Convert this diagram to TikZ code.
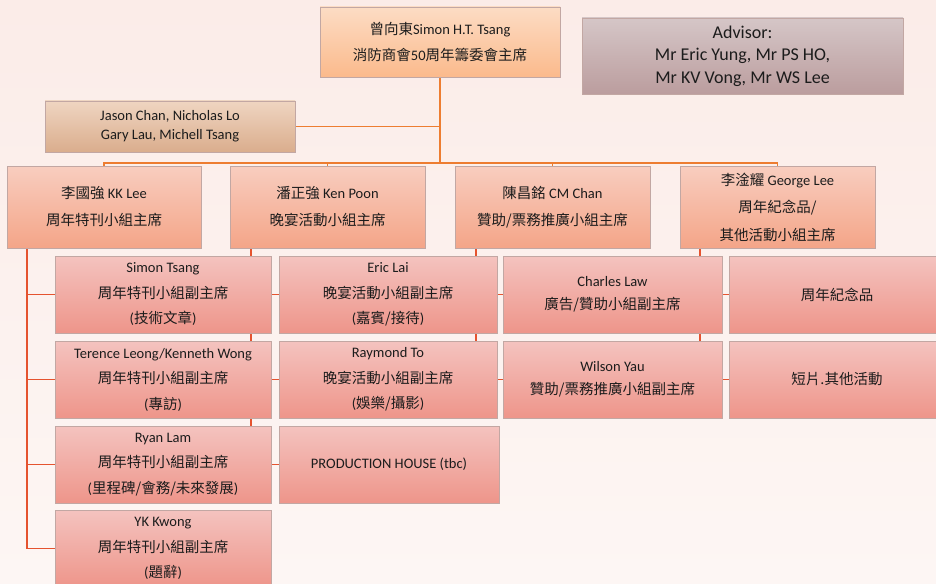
\documentclass[tikz,border=0pt]{standalone}
\usepackage{fontspec}
\setmainfont{Carlito}
\newfontfamily\cjk{Noto Sans CJK TC}
\definecolor{bgA}{HTML}{FBECE8}
\definecolor{bgB}{HTML}{FDF6F4}
\definecolor{topA}{HTML}{FCDCC4}
\definecolor{topB}{HTML}{FBBA8C}
\definecolor{advA}{HTML}{D5C6C7}
\definecolor{advB}{HTML}{BB9D9E}
\definecolor{jasA}{HTML}{EFD5C1}
\definecolor{jasB}{HTML}{DAAD8D}
\definecolor{rowA}{HTML}{F8CDBF}
\definecolor{rowB}{HTML}{F4A588}
\definecolor{subA}{HTML}{F4C3BF}
\definecolor{subB}{HTML}{EE958A}
\definecolor{edge}{HTML}{C2A7A3}
\definecolor{oline}{HTML}{ED7D31}
\definecolor{rline}{HTML}{E5532F}
\definecolor{ink}{HTML}{1C1C1C}
\pgfdeclarelayer{bg}
\pgfdeclarelayer{lines}
\pgfsetlayers{bg,lines,main}
\tikzset{
  box/.style={rectangle, inner sep=0pt, align=center, draw=edge, line width=0.7pt, text=ink},
  topbox/.style={box, top color=topA, bottom color=topB, font=\fontsize{14.5}{26}\selectfont},
  advbox/.style={box, top color=advA, bottom color=advB, font=\fontsize{18}{22.5}\selectfont},
  jasbox/.style={box, top color=jasA, bottom color=jasB, font=\fontsize{14.5}{19}\selectfont},
  rowbox/.style={box, top color=rowA, bottom color=rowB, font=\fontsize{14.5}{27}\selectfont, minimum width=195pt, minimum height=82pt},
  subbox/.style={box, top color=subA, bottom color=subB, font=\fontsize{14.5}{25.5}\selectfont, minimum height=77pt},
  twoline/.style={font=\fontsize{14.5}{23}\selectfont},
  orangeline/.style={draw=oline, line width=1.3pt},
  redline/.style={draw=rline, line width=1.3pt}
}
\begin{document}
\begin{tikzpicture}[x=1pt,y=-1pt]
\useasboundingbox (0,0) rectangle (936,583);
\begin{pgfonlayer}{bg}
\shade[top color=bgA, bottom color=bgB] (0,0) rectangle (936,583);
\end{pgfonlayer}

% top level
\node[topbox, minimum width=240pt, minimum height=70pt] (top) at (440,42)
  {{\cjk 曾向東}Simon H.T. Tsang\\{\cjk 消防商會}50{\cjk 周年籌委會主席}};
\node[advbox, minimum width=321pt, minimum height=76pt] (adv) at (742.5,56)
  {Advisor:\\Mr Eric Yung, Mr PS HO,\\Mr KV Vong, Mr WS Lee};
\node[jasbox, minimum width=250pt, minimum height=51pt] (jas) at (170,126.5)
  {Jason Chan, Nicholas Lo\\Gary Lau, Michell Tsang};

% row 2
\node[rowbox, minimum width=194pt] (kk) at (104,207)
  {{\cjk 李國強} KK Lee\\{\cjk 周年特刊小組主席}};
\node[rowbox] (kp) at (327.5,207)
  {{\cjk 潘正強} Ken Poon\\{\cjk 晚宴活動小組主席}};
\node[rowbox] (cm) at (552.5,207)
  {{\cjk 陳昌銘} CM Chan\\{\cjk 贊助/票務推廣小組主席}};
\node[rowbox, font=\fontsize{14.5}{27.5}\selectfont] (ge) at (777.5,207)
  {{\cjk 李淦耀} George Lee\\{\cjk 周年紀念品/}\\{\cjk 其他活動小組主席}};

% column 1
\node[subbox, minimum width=216pt] (st) at (163,294.5)
  {Simon Tsang\\{\cjk 周年特刊小組副主席}\\({\cjk 技術文章})};
\node[subbox, minimum width=216pt] (tl) at (163,379.5)
  {Terence Leong/Kenneth Wong\\{\cjk 周年特刊小組副主席}\\({\cjk 專訪})};
\node[subbox, minimum width=216pt] (rl) at (163,464.5)
  {Ryan Lam\\{\cjk 周年特刊小組副主席}\\({\cjk 里程碑/會務/未來發展})};
\node[subbox, minimum width=216pt] (yk) at (163,548.5)
  {YK Kwong\\{\cjk 周年特刊小組副主席}\\({\cjk 題辭})};

% column 2
\node[subbox, minimum width=218pt] (el) at (388,294.5)
  {Eric Lai\\{\cjk 晚宴活動小組副主席}\\({\cjk 嘉賓/接待})};
\node[subbox, minimum width=218pt] (rt) at (388,379.5)
  {Raymond To\\{\cjk 晚宴活動小組副主席}\\({\cjk 娛樂/攝影})};
\node[subbox, minimum width=220pt] (ph) at (389,464.5)
  {PRODUCTION HOUSE (tbc)};

% column 3
\node[subbox, twoline, minimum width=219pt] (cl) at (612.5,294.5)
  {Charles Law\\{\cjk 廣告/贊助小組副主席}};
\node[subbox, twoline, minimum width=219pt] (wy) at (612.5,379.5)
  {Wilson Yau\\{\cjk 贊助/票務推廣小組副主席}};

% column 4
\node[subbox, minimum width=216pt] (jn) at (837,294.5) {{\cjk 周年紀念品}};
\node[subbox, minimum width=216pt] (sp) at (837,379.5) {{\cjk 短片.其他活動}};

% helper coordinates
\coordinate (bus) at (0,163);
\coordinate (kkx) at (27,0);
\coordinate (kpx) at (251,0);
\coordinate (cmx) at (476,0);
\coordinate (gex) at (700,0);

\begin{pgfonlayer}{lines}
\draw[orangeline] (top.south) -- (top.south |- bus);
\draw[orangeline] (top.south) |- (jas.east);
\draw[orangeline] (kk.north) -- (kk.north |- bus) -- (ge.north |- bus) -- (ge.north);
\draw[orangeline] (kp.north) -- (kp.north |- bus);
\draw[orangeline] (cm.north) -- (cm.north |- bus);

\draw[redline] (kkx |- kk.south) |- (st.west);
\draw[redline] (kkx |- kk.south) |- (tl.west);
\draw[redline] (kkx |- kk.south) |- (rl.west);
\draw[redline] (kkx |- kk.south) |- (yk.west);

\draw[redline] (kpx |- kp.south) |- (el.west);
\draw[redline] (kpx |- kp.south) |- (rt.west);
\draw[redline] (kpx |- kp.south) |- (ph.west);

\draw[redline] (cmx |- cm.south) |- (cl.west);
\draw[redline] (cmx |- cm.south) |- (wy.west);

\draw[redline] (gex |- ge.south) |- (jn.west);
\draw[redline] (gex |- ge.south) |- (sp.west);
\end{pgfonlayer}
\end{tikzpicture}
\end{document}
